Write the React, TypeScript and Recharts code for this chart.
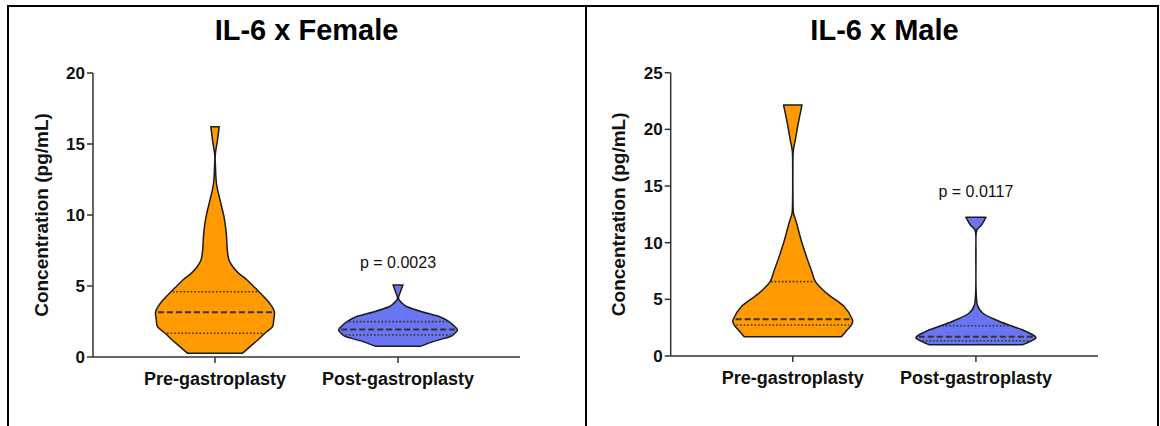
import React from 'react';
import { ScatterChart, Scatter, XAxis, YAxis, ReferenceDot } from 'recharts';

const categories = ['Pre-gastroplasty', 'Post-gastroplasty'];
const titles = ['IL-6 x Female', 'IL-6 x Male'];
const pValues = ['p = 0.0023', 'p = 0.0117'];
const pValueLevels = [6.65, 14.5];
const femaleTicks = [0, 5, 10, 15, 20];
const maleTicks = [0, 5, 10, 15, 20, 25];

// Violin outlines: value levels (ascending) and relative density (half-width, max = 1)
const femalePreLevels = [0.26, 0.73, 1.2, 1.67, 2.13, 2.61, 3.15, 3.54, 4.01, 4.6, 4.95, 5.42, 5.89, 6.36, 6.83, 7.54, 8.71, 9.88, 11.06, 12.2, 13.4, 14.23, 15.28, 16.22];
const femalePreDensity = [0.46, 0.59, 0.72, 0.84, 0.966, 0.987, 1, 0.958, 0.874, 0.74, 0.655, 0.54, 0.4, 0.3, 0.235, 0.207, 0.19, 0.151, 0.084, 0.025, 0.008, 0.005, 0.042, 0.07];
const femalePreQuartiles = [1.67, 3.15, 4.6];

const femalePostLevels = [0.75, 1.1, 1.43, 1.55, 1.9, 2.2, 2.49, 2.84, 3.19, 3.54, 3.8, 4.13, 4.6, 5.07];
const femalePostDensity = [0.378, 0.6, 0.874, 0.924, 1.0, 0.94, 0.857, 0.7, 0.4, 0.151, 0.067, 0.008, 0.042, 0.084];
const femalePostQuartiles = [1.55, 1.93, 2.49];

const malePreLevels = [1.7, 2.29, 2.74, 3.24, 4.36, 5.24, 5.83, 6.56, 7.59, 8.77, 10.24, 11.71, 12.59, 13.4, 14.5, 16.5, 18.03, 19.06, 20.54, 22.15];
const malePreDensity = [0.816, 0.912, 0.985, 1, 0.862, 0.642, 0.507, 0.38, 0.31, 0.23, 0.14, 0.064, 0.013, 0.005, 0.002, 0.002, 0.007, 0.042, 0.092, 0.155];
const malePreQuartiles = [2.74, 3.24, 6.56];

const malePostLevels = [1.0, 1.35, 1.7, 2.29, 2.67, 3.18, 3.77, 4.5, 6, 9, 10.97, 11.56, 12.24];
const malePostDensity = [0.79, 0.94, 1.0, 0.79, 0.59, 0.338, 0.118, 0.025, 0.002, 0.002, 0.008, 0.093, 0.169];
const malePostQuartiles = [1.35, 1.7, 2.67];

const ORANGE = '#ff9a00';
const BLUE = '#6975f2';
const MAXW = 0.325;
const X_DOMAIN: [number, number] = [1 / 3, 8 / 3];
const FONT = '"Liberation Sans", Arial, Helvetica, sans-serif';

type Pt = { x: number; y: number };

function outline(center: number, levels: number[], dens: number[]): Pt[] {
  const right = levels.map((v, i) => ({ x: center + dens[i] * MAXW, y: v }));
  const left = levels.map((v, i) => ({ x: center - dens[i] * MAXW, y: v })).reverse();
  return [...right, ...left];
}

function widthAt(levels: number[], dens: number[], q: number): number {
  for (let i = 0; i < levels.length - 1; i++) {
    if (q >= levels[i] && q <= levels[i + 1]) {
      const t = (q - levels[i]) / (levels[i + 1] - levels[i]);
      return (dens[i] + t * (dens[i + 1] - dens[i])) * MAXW;
    }
  }
  return 0;
}

function smooth(p: Pt[]): string {
  let d = '';
  for (let i = 0; i < p.length - 1; i++) {
    const p0 = p[i - 1] || p[i];
    const p1 = p[i];
    const p2 = p[i + 1];
    const p3 = p[i + 2] || p2;
    const c1x = p1.x + (p2.x - p0.x) / 6;
    const c1y = p1.y + (p2.y - p0.y) / 6;
    const c2x = p2.x - (p3.x - p1.x) / 6;
    const c2y = p2.y - (p3.y - p1.y) / 6;
    d += ` C${c1x},${c1y} ${c2x},${c2y} ${p2.x},${p2.y}`;
  }
  return d;
}

const renderViolin = (fill: string) => (props: any) => {
  const pts: Pt[] = props.points || [];
  if (pts.length < 4) return <g />;
  const n = pts.length / 2;
  const right = pts.slice(0, n);
  const left = pts.slice(n);
  const d = `M${right[0].x},${right[0].y}` + smooth(right) + ` L${left[0].x},${left[0].y}` + smooth(left) + ' Z';
  return <path d={d} fill={fill} stroke="#1c1c1c" strokeWidth={1.5} strokeLinejoin="round" />;
};

const noShape = () => <g />;

type ViolinSpec = { center: number; levels: number[]; dens: number[]; quart: number[]; fill: string };

function quartileSeries(v: ViolinSpec, key: string) {
  return v.quart.map((q, i) => {
    const w = widthAt(v.levels, v.dens, q) * 0.96;
    const isMedian = i === 1;
    return (
      <Scatter
        key={`${key}-q${i}`}
        data={[{ x: v.center - w, y: q }, { x: v.center + w, y: q }]}
        line={{
          stroke: '#3a3226',
          strokeWidth: isMedian ? 2 : 1.6,
          strokeDasharray: isMedian ? '6 3' : '1.6 2',
          fill: 'none',
        }}
        lineType="joint"
        shape={noShape}
        legendType="none"
        isAnimationActive={false}
      />
    );
  });
}

function Chart({ left, width, height, margin, ticks, domain, violins, pText, pLevel }: any) {
  return (
    <div style={{ position: 'absolute', left, top: 0 }}>
      <ScatterChart width={width} height={height} margin={margin}>
        <XAxis
          type="number"
          dataKey="x"
          domain={X_DOMAIN}
          ticks={[1, 2]}
          allowDataOverflow
          tickFormatter={(v: number) => categories[Math.round(v) - 1] || ''}
          height={30}
          stroke="#333"
          strokeWidth={1.5}
          tickSize={6}
          tickMargin={9}
          tick={{ fill: '#111', fontSize: 18, fontWeight: 700 }}
        />
        <YAxis
          type="number"
          dataKey="y"
          domain={domain}
          ticks={ticks}
          allowDataOverflow
          width={60}
          stroke="#333"
          strokeWidth={1.5}
          tickSize={6}
          tickMargin={2}
          tick={{ fill: '#111', fontSize: 17, fontWeight: 700 }}
          label={{
            value: 'Concentration (pg/mL)',
            angle: -90,
            position: 'insideLeft',
            offset: 8,
            style: { textAnchor: 'middle', fontWeight: 700, fontSize: 19, fill: '#111' },
          }}
        />
        {violins.map((v: ViolinSpec, i: number) => (
          <Scatter
            key={`v${i}`}
            data={outline(v.center, v.levels, v.dens)}
            line={renderViolin(v.fill)}
            lineType="joint"
            shape={noShape}
            legendType="none"
            isAnimationActive={false}
          />
        ))}
        {violins.map((v: ViolinSpec, i: number) => quartileSeries(v, `v${i}`))}
        <ReferenceDot
          x={2}
          y={pLevel}
          r={0}
          fill="none"
          stroke="none"
          label={{ value: pText, position: 'center', fill: '#111', fontSize: 16 }}
        />
      </ScatterChart>
    </div>
  );
}

export default function App() {
  const femaleViolins: ViolinSpec[] = [
    { center: 1, levels: femalePreLevels, dens: femalePreDensity, quart: femalePreQuartiles, fill: ORANGE },
    { center: 2, levels: femalePostLevels, dens: femalePostDensity, quart: femalePostQuartiles, fill: BLUE },
  ];
  const maleViolins: ViolinSpec[] = [
    { center: 1, levels: malePreLevels, dens: malePreDensity, quart: malePreQuartiles, fill: ORANGE },
    { center: 2, levels: malePostLevels, dens: malePostDensity, quart: malePostQuartiles, fill: BLUE },
  ];
  const titleStyle: React.CSSProperties = {
    position: 'absolute',
    top: 16,
    width: 427,
    textAlign: 'center',
    fontSize: 29,
    lineHeight: '29px',
    fontWeight: 700,
    color: '#000',
  };
  return (
    <div
      style={{
        position: 'absolute',
        left: 0,
        top: 0,
        width: 1160,
        height: 426,
        overflow: 'hidden',
        background: '#fff',
        fontFamily: FONT,
      }}
    >
      <div style={{ position: 'absolute', left: 7, top: 5, width: 580, height: 440, border: '2px solid #000', boxSizing: 'border-box' }} />
      <div style={{ position: 'absolute', left: 585, top: 5, width: 574, height: 440, border: '2px solid #000', borderLeft: 'none', boxSizing: 'border-box' }} />
      <div style={{ ...titleStyle, left: 93 }}>{titles[0]}</div>
      <div style={{ ...titleStyle, left: 671 }}>{titles[1]}</div>
      <Chart
        left={0}
        width={600}
        height={420}
        margin={{ top: 73, right: 80, bottom: 33, left: 33 }}
        ticks={femaleTicks}
        domain={[0, 20]}
        violins={femaleViolins}
        pText={pValues[0]}
        pLevel={pValueLevels[0]}
      />
      <Chart
        left={590}
        width={560}
        height={420}
        margin={{ top: 72.7, right: 52, bottom: 34, left: 20.7 }}
        ticks={maleTicks}
        domain={[0, 25]}
        violins={maleViolins}
        pText={pValues[1]}
        pLevel={pValueLevels[1]}
      />
    </div>
  );
}
